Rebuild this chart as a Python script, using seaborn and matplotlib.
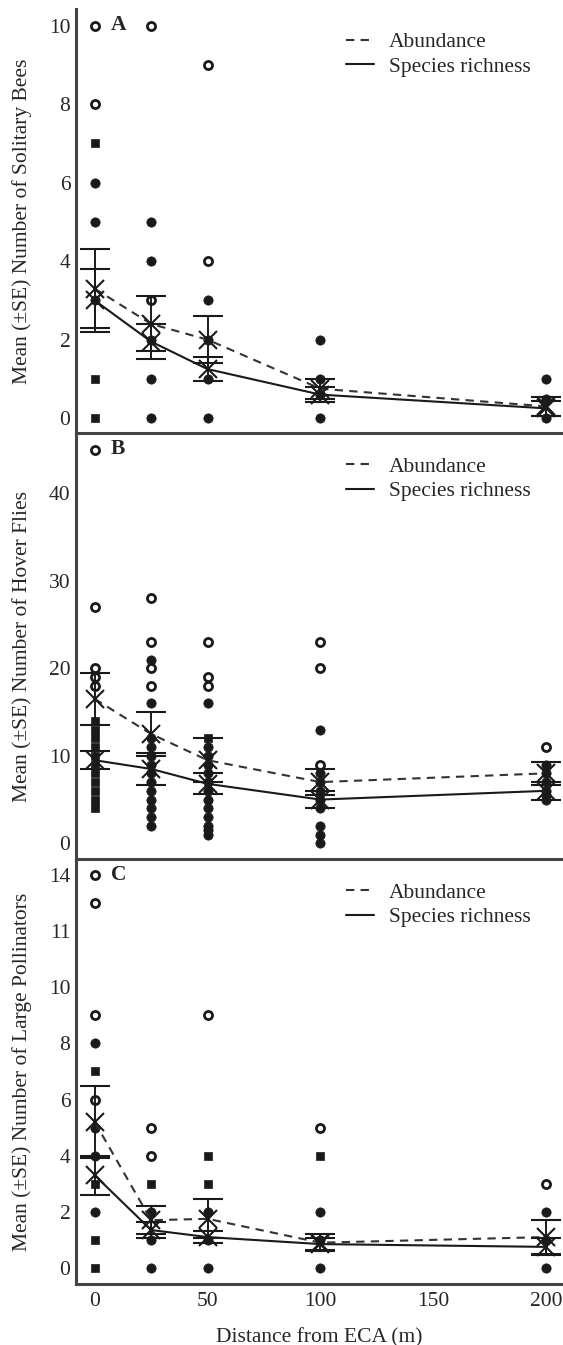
import seaborn as sns
import numpy as np
import pandas as pd
import matplotlib
matplotlib.use("Agg")
import matplotlib.pyplot as plt

dist = [0, 25, 50, 100, 200]

# panel A: solitary bees
bees_abund_mean = [3.3, 2.4, 2.0, 0.75, 0.3]
bees_abund_se = [1.0, 0.7, 0.6, 0.25, 0.25]
bees_rich_mean = [3.0, 1.95, 1.25, 0.6, 0.25]
bees_rich_se = [0.8, 0.45, 0.3, 0.2, 0.2]
bees_pts_x = [0, 0, 0, 0, 0, 0, 0, 0,
              25, 25, 25, 25, 25, 25, 25,
              50, 50, 50, 50, 50, 50,
              100, 100, 100, 100,
              200, 200, 200]
bees_pts_y = [10, 8, 7, 6, 5, 3, 1, 0,
              10, 5, 4, 3, 2, 1, 0,
              9, 4, 3, 2, 1, 0,
              2, 1, 0.6, 0,
              1, 0.5, 0]
bees_pts_kind = ["open", "open", "sq", "dot", "dot", "dot", "sq", "sq",
                 "open", "dot", "dot", "open", "dot", "dot", "dot",
                 "open", "open", "dot", "dot", "dot", "dot",
                 "dot", "dot", "dot", "dot",
                 "dot", "dot", "dot"]

# panel B: hover flies
flies_abund_mean = [16.5, 12.5, 9.5, 7.0, 8.0]
flies_abund_se = [3.0, 2.5, 2.5, 1.5, 1.3]
flies_rich_mean = [9.5, 8.5, 6.8, 5.0, 6.0]
flies_rich_se = [1.0, 1.8, 1.2, 1.0, 1.0]
flies_pts_x = [0] * 16 + [25] * 17 + [50] * 17 + [100] * 12 + [200] * 7
flies_pts_y = [45, 27, 20, 19, 18, 14, 13, 12, 11, 10, 9, 8, 7, 6, 5, 4,
               28, 23, 21, 20, 18, 16, 12, 11, 10, 9, 8, 7, 6, 5, 4, 3, 2,
               23, 19, 18, 16, 12, 11, 10, 9, 8, 7, 6, 5, 4, 3, 2, 1.5, 1,
               23, 20, 13, 9, 8, 7, 6, 5, 4, 2, 1, 0,
               11, 9, 8, 7, 6, 5.5, 5]
flies_pts_kind = (["open", "open", "open", "open", "open"] + ["sq"] * 11
                  + ["open", "open", "dot", "open", "open", "dot"] + ["dot"] * 11
                  + ["open", "open", "open", "dot", "sq"] + ["dot"] * 12
                  + ["open", "open", "dot", "open"] + ["dot"] * 8
                  + ["open"] + ["dot"] * 6)

# panel C: large pollinators
large_abund_mean = [5.2, 1.7, 1.75, 0.9, 1.1]
large_abund_se = [1.3, 0.5, 0.7, 0.3, 0.6]
large_rich_mean = [3.3, 1.35, 1.1, 0.85, 0.75]
large_rich_se = [0.7, 0.3, 0.2, 0.2, 0.3]
large_pts_x = [0] * 12 + [25] * 6 + [50] * 6 + [100] * 5 + [200] * 4
large_pts_y = [14, 13, 9, 8, 7, 6, 5, 4, 3, 2, 1, 0,
               5, 4, 3, 2, 1, 0,
               9, 4, 3, 2, 1, 0,
               5, 4, 2, 1, 0,
               3, 2, 1, 0]
large_pts_kind = ["open", "open", "open", "dot", "sq", "open", "dot", "dot", "sq", "dot", "sq", "sq",
                  "open", "open", "sq", "dot", "dot", "dot",
                  "open", "sq", "sq", "dot", "dot", "dot",
                  "open", "sq", "dot", "dot", "dot",
                  "open", "dot", "dot", "dot"]

panel_letters = ["A", "B", "C"]
ylabels = ["Mean (\u00b1SE) Number of Solitary Bees",
           "Mean (\u00b1SE) Number of Hover Flies",
           "Mean (\u00b1SE) Number of Large Pollinators"]
yticks = [[0, 2, 4, 6, 8, 10], [0, 10, 20, 30, 40], [0, 2, 4, 6, 8, 10, 12, 14]]
yticklabels = [["0", "2", "4", "6", "8", "10"],
               ["0", "10", "20", "30", "40"],
               ["0", "2", "4", "6", "8", "10", "11", "14"]]
ylims = [(-0.38, 10.43), (-1.8, 46.9), (-0.57, 14.57)]
xticks = [0, 50, 100, 150, 200]

sns.set_theme(style="white")
plt.rcParams["font.family"] = ["Liberation Serif", "DejaVu Serif"]
fs = 15.5

fig = plt.figure(figsize=(5.63, 13.45), dpi=100)
boxes = [[0.135, 0.678, 0.865, 0.3155],
         [0.135, 0.3613, 0.865, 0.3167],
         [0.135, 0.0454, 0.865, 0.3159]]

panels = [
    (bees_pts_x, bees_pts_y, bees_pts_kind, bees_abund_mean, bees_abund_se, bees_rich_mean, bees_rich_se),
    (flies_pts_x, flies_pts_y, flies_pts_kind, flies_abund_mean, flies_abund_se, flies_rich_mean, flies_rich_se),
    (large_pts_x, large_pts_y, large_pts_kind, large_abund_mean, large_abund_se, large_rich_mean, large_rich_se),
]

ink = "#1a1a1a"
spine_col = "#444444"

for i, (px, py, pk, am, ase, rm, rse) in enumerate(panels):
    ax = fig.add_axes(boxes[i])
    ax.patch.set_alpha(0)
    pts = pd.DataFrame({"x": px, "y": py, "kind": pk})

    # raw observations
    sns.scatterplot(data=pts[pts.kind == "dot"], x="x", y="y", ax=ax, marker="o",
                    color=ink, s=45, edgecolor=ink, linewidth=0.5, zorder=3)
    sns.scatterplot(data=pts[pts.kind == "sq"], x="x", y="y", ax=ax, marker="s",
                    color=ink, s=34, edgecolor=ink, linewidth=0.5, zorder=3)
    sns.scatterplot(data=pts[pts.kind == "open"], x="x", y="y", ax=ax, marker="o",
                    facecolor="white", s=34, edgecolor=ink, linewidth=2.0, zorder=3)

    means = pd.DataFrame({"x": dist, "abund": am, "rich": rm})
    sns.lineplot(data=means, x="x", y="abund", ax=ax, color="#333333", lw=1.5,
                 linestyle=(0, (4, 3)), label="Abundance", zorder=4)
    sns.lineplot(data=means, x="x", y="rich", ax=ax, color=ink, lw=1.5,
                 linestyle="-", label="Species richness", zorder=4)

    ax.errorbar(dist, am, yerr=ase, fmt="x", color=ink, ms=13, mew=1.5,
                elinewidth=1.4, capsize=11, capthick=1.5, zorder=5)
    ax.errorbar(dist, rm, yerr=rse, fmt="x", color=ink, ms=13, mew=1.5,
                elinewidth=1.4, capsize=11, capthick=1.5, zorder=5)

    ax.set_xlim(-8.3, 207.5)
    ax.set_ylim(*ylims[i])
    ax.set_yticks(yticks[i])
    ax.set_yticklabels(yticklabels[i], fontsize=fs)
    ax.tick_params(axis="y", direction="in", length=7, width=1.6, color=spine_col, pad=4)

    if i == 2:
        ax.set_xticks(xticks)
        ax.set_xticklabels([str(t) for t in xticks], fontsize=fs)
        ax.tick_params(axis="x", direction="in", length=11, width=1.4, color=spine_col, pad=6)
        ax.set_xlabel("Distance from ECA (m)", fontsize=fs, labelpad=12)
    else:
        ax.set_xticks([])
        ax.set_xlabel("")

    ax.set_ylabel(ylabels[i], fontsize=fs)
    ax.yaxis.set_label_coords(-0.09, 0.5)

    for side in ["top", "right"]:
        ax.spines[side].set_visible(False)
    for side in ["left", "bottom"]:
        ax.spines[side].set_color(spine_col)
        ax.spines[side].set_linewidth(2.2)

    ax.text(0.072, 0.985, panel_letters[i], transform=ax.transAxes, fontsize=fs,
            fontweight="bold", va="top", ha="left")

    leg = ax.legend(loc="upper left", bbox_to_anchor=(0.515, 0.99), frameon=False,
                    fontsize=fs, handlelength=1.3, handletextpad=0.7, labelspacing=0.2)

fig.savefig("out.png", dpi=100)
